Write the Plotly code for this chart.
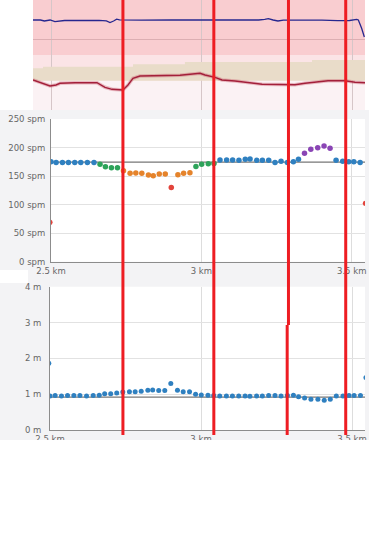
import plotly.graph_objects as go

# ---------------- data ----------------
# top panel (unitless levels)
blue_km = [2.440, 2.465, 2.478, 2.497, 2.513, 2.528, 2.545, 2.560, 2.600, 2.660, 2.684, 2.696,
           2.708, 2.718, 2.728, 2.745, 2.800, 2.900, 3.000, 3.100, 3.190, 3.210, 3.222, 3.238,
           3.254, 3.272, 3.330, 3.400, 3.452, 3.492, 3.5156, 3.521, 3.532, 3.5375, 3.541]
blue_level = [90, 90, 89, 90, 88.3, 89, 89.5, 89.5, 89.7, 89.7, 89.2, 87.5,
              89, 90.8, 90.2, 90, 89.8, 90, 90, 89.9, 90, 90.7, 91.3, 90,
              89, 89.8, 90, 89.8, 89.3, 89.5, 90.7, 90, 81.7, 75, 73]

red_km = [2.4402, 2.4801, 2.4967, 2.5166, 2.5299, 2.5797, 2.6528, 2.6794, 2.7027, 2.7392,
          2.7558, 2.7724, 2.7957, 2.9286, 2.9618, 2.9950, 3.0116, 3.0449, 3.0681, 3.1113,
          3.2010, 3.3106, 3.3439, 3.4203, 3.4767, 3.5100, 3.5432]
red_level = [30, 25.5, 24, 25, 26.7, 27.2, 27.3, 22.7, 20.7, 20, 25, 31.7, 34, 34.7, 36,
             36.7, 35, 32.7, 30, 29, 25.7, 25.3, 26.7, 29.3, 29.3, 27.7, 27.3]

tan_km = [2.4402, 2.4734, 2.7724, 2.945, 3.3671, 3.5432]
tan_top = [41.7, 43.3, 45.7, 48, 50, 50]
tan_bottom = 29.3

zone_levels = [110, 55, 29.3, 0]
zone_colors = ["#f9cdd0", "#fbe4e6", "#fbf2f4"]

# cadence / stride samples
cad_km = [2.496, 2.500, 2.517, 2.538, 2.558, 2.579, 2.599, 2.621, 2.643, 2.663, 2.681, 2.701,
          2.721, 2.741, 2.763, 2.782, 2.802, 2.824, 2.840, 2.860, 2.880, 2.900, 2.922, 2.941,
          2.962, 2.982, 3.001, 3.023, 3.042, 3.062, 3.084, 3.104, 3.125, 3.146, 3.162, 3.184,
          3.203, 3.224, 3.245, 3.265, 3.286, 3.306, 3.323, 3.343, 3.364, 3.387, 3.408, 3.428,
          3.448, 3.470, 3.490, 3.507, 3.528, 3.546]
cad_spm = [69, 175, 174, 174, 174, 174, 174, 174, 174, 170.6, 166.5, 164.7,
           164.7, 159.4, 154.8, 155.4, 154.8, 151.8, 150.7, 153.6, 153.6, 130.2, 152.4, 154.8,
           156, 167, 170.6, 171.7, 172, 178.2, 178.2, 178.2, 177.6, 179.3, 179.9, 177.6,
           177.6, 177.6, 174, 175.8, 174, 175.2, 179.3, 189.8, 196.8, 199.7, 202.7, 198.6,
           177.6, 175.8, 175.2, 175.2, 174, 102.2]
stride_m = [1.86, 0.95, 0.96, 0.95, 0.96, 0.96, 0.96, 0.95, 0.96, 0.97, 1.01, 1.01,
            1.03, 1.06, 1.07, 1.07, 1.08, 1.11, 1.12, 1.10, 1.10, 1.30, 1.11, 1.07,
            1.07, 1.00, 0.98, 0.97, 0.96, 0.95, 0.95, 0.95, 0.95, 0.95, 0.94, 0.95,
            0.95, 0.96, 0.96, 0.95, 0.96, 0.97, 0.93, 0.89, 0.86, 0.86, 0.83, 0.86,
            0.95, 0.95, 0.96, 0.96, 0.96, 1.46]
cad_avg = 174.5
stride_avg = 0.92

zone_limits = [140, 163.5, 173, 185]
cad_zone_colors = ["#e2433b", "#e5832b", "#2ea35a", "#2f80c0", "#8a45b5"]
stride_color = "#2f80c0"

x_ticks = [2.5, 3.0, 3.5]
x_tick_text = ["2.5 km", "3 km", "3.5 km"]
cad_ticks = [0, 50, 100, 150, 200, 250]
cad_tick_text = [f"{v} spm" for v in cad_ticks]
stride_ticks = [0, 1, 2, 3, 4]
stride_tick_text = [f"{v} m" for v in stride_ticks]

marker_km = [2.7392, 3.0415, 3.4801]
marker_split_km = [3.2897, 3.2854]

# ---------------- figure ----------------
W, H = 369, 552
def py(p):
    return 1 - p / H

def zone_color(v):
    for lim, c in zip(zone_limits, cad_zone_colors):
        if v < lim:
            return c
    return cad_zone_colors[-1]

fig = go.Figure()

# top panel
fig.add_trace(go.Scatter(x=tan_km, y=[tan_bottom] * len(tan_km), mode="lines", line=dict(width=0),
                         line_shape="hv", hoverinfo="skip", xaxis="x", yaxis="y", showlegend=False))
fig.add_trace(go.Scatter(x=tan_km, y=tan_top, mode="lines", line=dict(width=0), line_shape="hv",
                         fill="tonexty", fillcolor="#e9dcc9", xaxis="x", yaxis="y", showlegend=False))
fig.add_trace(go.Scatter(x=blue_km, y=blue_level, mode="lines", line=dict(color="#26278f", width=1.3),
                         xaxis="x", yaxis="y", showlegend=False))
fig.add_trace(go.Scatter(x=red_km, y=red_level, mode="lines", line=dict(color="rgba(200,80,100,0.35)", width=3.5),
                         xaxis="x", yaxis="y", showlegend=False))
fig.add_trace(go.Scatter(x=red_km, y=red_level, mode="lines", line=dict(color="#a3203a", width=1.4),
                         xaxis="x", yaxis="y", showlegend=False))

# cadence
fig.add_trace(go.Scatter(x=[2.5, 3.5442], y=[cad_avg, cad_avg], mode="lines",
                         line=dict(color="#777777", width=1.2), xaxis="x2", yaxis="y2", showlegend=False))
fig.add_trace(go.Scatter(x=cad_km, y=cad_spm, mode="markers",
                         marker=dict(size=5.5, color=[zone_color(v) for v in cad_spm]),
                         xaxis="x2", yaxis="y2", showlegend=False))

# stride
fig.add_trace(go.Scatter(x=[2.5, 3.543], y=[stride_avg, stride_avg], mode="lines",
                         line=dict(color="#777777", width=1.2), xaxis="x3", yaxis="y3", showlegend=False))
fig.add_trace(go.Scatter(x=cad_km, y=stride_m, mode="markers",
                         marker=dict(size=5, color=stride_color),
                         xaxis="x3", yaxis="y3", showlegend=False))

font = dict(family="DejaVu Sans", size=8.5, color="#666666")

shapes = []
# gray panel behind the two lower charts
shapes.append(dict(type="rect", xref="paper", yref="paper", x0=0, x1=1, y0=py(440), y1=py(110),
                   fillcolor="#f3f3f5", line=dict(width=0), layer="below"))
shapes.append(dict(type="rect", xref="paper", yref="paper", x0=0, x1=28 / W, y0=py(283), y1=py(270),
                   fillcolor="#ffffff", line=dict(width=0), layer="below"))
# white plot areas
for xr, yr in (("x2 domain", "y2 domain"), ("x3 domain", "y3 domain")):
    shapes.append(dict(type="rect", xref=xr, yref=yr, x0=0, x1=1, y0=0, y1=1,
                       fillcolor="#ffffff", line=dict(width=0), layer="below"))
# top panel zones
for i, c in enumerate(zone_colors):
    shapes.append(dict(type="rect", xref="x domain", yref="y", x0=0, x1=1,
                       y0=zone_levels[i + 1], y1=zone_levels[i], fillcolor=c,
                       line=dict(width=0), layer="below"))
# red marker lines
for k in marker_km:
    shapes.append(dict(type="line", xref="x2", yref="paper", x0=k, x1=k, y0=py(435), y1=1,
                       line=dict(color="#ee1d23", width=3), layer="above"))
shapes.append(dict(type="line", xref="x2", yref="paper", x0=marker_split_km[0], x1=marker_split_km[0],
                   y0=py(325), y1=1, line=dict(color="#ee1d23", width=3), layer="above"))
shapes.append(dict(type="line", xref="x2", yref="paper", x0=marker_split_km[1], x1=marker_split_km[1],
                   y0=py(435), y1=py(325), line=dict(color="#ee1d23", width=3), layer="above"))
# crop of the bottom tick labels
shapes.append(dict(type="rect", xref="paper", yref="paper", x0=0, x1=1, y0=0, y1=py(440),
                   fillcolor="#ffffff", line=dict(width=0), layer="above"))

common = dict(automargin=False, zeroline=False, ticks="")

fig.update_layout(
    template="none",
    width=W, height=H, autosize=False,
    margin=dict(l=0, r=0, t=0, b=0, pad=0),
    paper_bgcolor="#ffffff", plot_bgcolor="#ffffff",
    showlegend=False,
    shapes=shapes,
    xaxis=dict(domain=[33 / W, 365 / W], range=[2.4402, 3.5432], tickvals=x_ticks, showticklabels=False,
               showgrid=True, gridcolor="#d6c6c8", gridwidth=1, showline=False, anchor="y", **common),
    yaxis=dict(domain=[py(110), 1], range=[0, 110], tickvals=[71], showticklabels=False,
               showgrid=True, gridcolor="#dcaeb2", showline=False, anchor="x", **common),
    xaxis2=dict(domain=[51 / W, 365 / W], range=[2.5, 3.5442], tickvals=x_ticks, ticktext=x_tick_text,
                showgrid=True, gridcolor="#dddddd", showline=True, linecolor="#8c8c8c",
                linewidth=1, tickfont=font, ticklabelstandoff=1, anchor="y2", **common),
    yaxis2=dict(domain=[py(261.7), py(119)], range=[0, 250], tickvals=cad_ticks, ticktext=cad_tick_text,
                showgrid=True, gridcolor="#e2e2e2", showline=True, linecolor="#8c8c8c",
                linewidth=1, tickfont=font, ticklabelstandoff=3, anchor="x2", **common),
    xaxis3=dict(domain=[50 / W, 365 / W], range=[2.5, 3.543], tickvals=x_ticks, ticktext=x_tick_text,
                showgrid=True, gridcolor="#dddddd", showline=True, linecolor="#8c8c8c",
                linewidth=1, tickfont=font, ticklabelstandoff=1, anchor="y3", **common),
    yaxis3=dict(domain=[py(430), py(286.7)], range=[0, 4], tickvals=stride_ticks, ticktext=stride_tick_text,
                showgrid=True, gridcolor="#e2e2e2", showline=True, linecolor="#8c8c8c",
                linewidth=1, tickfont=font, ticklabelstandoff=6, anchor="x3", **common),
)

fig.write_html("out.html", config={"displayModeBar": False},
               post_script="document.body.style.margin='0';document.body.style.overflow='hidden';")
